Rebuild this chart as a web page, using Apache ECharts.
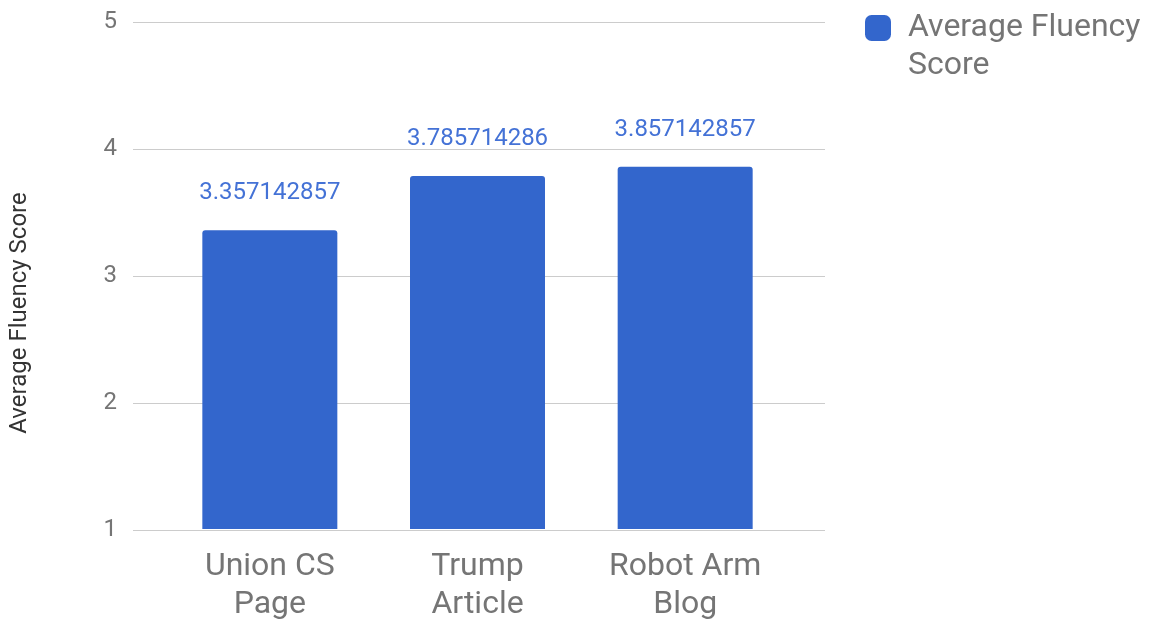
<!DOCTYPE html>
<html>
<head>
<meta charset="utf-8">
<script src="https://cdn.jsdelivr.net/npm/echarts@6/dist/echarts.min.js"></script>
<style>
  html, body { margin: 0; padding: 0; background: #ffffff; }
  #chart { width: 1153px; height: 624px; }
</style>
</head>
<body>
<div id="chart"></div>
<script>
// Chart data
const categories = ['Union CS\nPage', 'Trump\nArticle', 'Robot Arm\nBlog'];
const fluencyScores = [3.357142857, 3.785714286, 3.857142857];
const seriesName = 'Average Fluency Score';
const yTicks = { min: 1, max: 5, interval: 1 };

const FONT = 'Roboto, "Noto Sans", sans-serif';
const GRAY = '#757575';
const BLUE = '#3366cc';

const chart = echarts.init(document.getElementById('chart'));

chart.setOption({
  animation: false,
  textStyle: { fontFamily: FONT },
  // grid 0 carries the gridlines across the full plot width,
  // grid 1 holds the bars with their own category spacing
  grid: [
    { left: 129, right: 328, top: 22, bottom: 94 },
    { left: 166, right: 364, top: 22, bottom: 94 }
  ],
  legend: {
    data: [seriesName],
    orient: 'vertical',
    left: 865,
    top: -29,
    padding: 0,
    itemWidth: 26,
    itemHeight: 26,
    icon: 'roundRect',
    // leading blank line keeps the first text line level with the swatch
    formatter: () => '\nAverage Fluency\nScore',
    textStyle: {
      fontFamily: FONT,
      fontSize: 32,
      lineHeight: 38,
      color: GRAY,
      padding: [0, 0, 0, 12]
    },
    itemGap: 10
  },
  xAxis: [
    { type: 'category', gridIndex: 0, data: categories, show: false },
    {
      type: 'category',
      gridIndex: 1,
      data: categories,
      axisLine: { show: false },
      axisTick: { show: false },
      axisLabel: {
        margin: 19,
        fontSize: 32,
        lineHeight: 38,
        color: GRAY,
        fontFamily: FONT
      }
    }
  ],
  yAxis: [
    {
      type: 'value',
      gridIndex: 0,
      min: yTicks.min,
      max: yTicks.max,
      interval: yTicks.interval,
      axisLine: { show: false },
      axisTick: { show: false },
      axisLabel: { fontSize: 24, color: GRAY, margin: 16, fontFamily: FONT },
      splitLine: { lineStyle: { color: '#cccccc', width: 1 } },
      name: seriesName,
      nameLocation: 'middle',
      nameRotate: 90,
      nameGap: 101,
      nameTextStyle: {
        fontSize: 24,
        color: '#333333',
        fontFamily: FONT,
        padding: [0, 74, 0, 0]
      }
    },
    {
      type: 'value',
      gridIndex: 1,
      min: yTicks.min,
      max: yTicks.max,
      interval: yTicks.interval,
      show: false,
      splitLine: { show: false }
    }
  ],
  series: [
    {
      name: seriesName,
      type: 'bar',
      xAxisIndex: 1,
      yAxisIndex: 1,
      data: fluencyScores,
      barWidth: 135,
      itemStyle: { color: BLUE, borderRadius: [3, 3, 0, 0] },
      label: {
        show: true,
        position: 'top',
        distance: 25,
        fontSize: 24,
        color: '#4472d6',
        fontFamily: FONT,
        formatter: (p) => String(p.value)
      }
    }
  ]
});
</script>
</body>
</html>
